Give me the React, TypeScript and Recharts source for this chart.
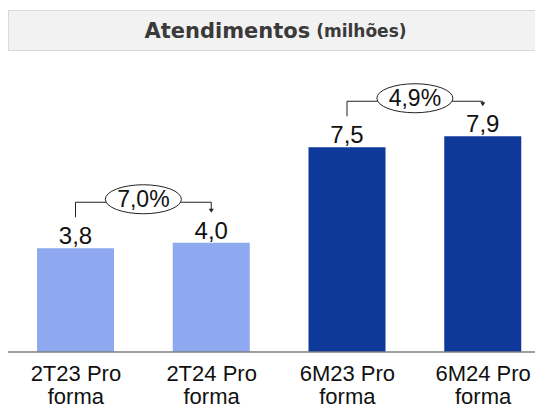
import { Bar, BarChart, Cell, LabelList, XAxis, YAxis } from "recharts";

const categories = ["2T23 Pro forma", "2T24 Pro forma", "6M23 Pro forma", "6M24 Pro forma"];
const values = [3.8, 4.0, 7.5, 7.9];
const growth = ["7,0%", "", "4,9%", ""];
const colors = ["#8EA9F0", "#8EA9F0", "#0F389B", "#0F389B"];

const CHART_W = 543;
const CHART_H = 402;
const MARGIN = { top: 71, right: 0, bottom: 0, left: 0 };
const PLOT_W = CHART_W - MARGIN.left - MARGIN.right;
const labelFont = "'Liberation Sans', Arial, sans-serif";

const fmt = (v: number) => v.toFixed(1).replace(".", ",");

// two-line category tick ("2T23 Pro" / "forma")
function CategoryTick({ x, y, payload }: any) {
  const name: string = payload.value;
  const cut = name.lastIndexOf(" ");
  return (
    <text x={x} y={y} textAnchor="middle" fontFamily={labelFont} fontSize={22} fill="#111">
      <tspan x={x} dy={29}>{name.slice(0, cut)}</tspan>
      <tspan x={x} dy={23}>{name.slice(cut + 1)}</tspan>
    </text>
  );
}

// value label on top of each bar, plus the growth bracket for the first bar of a pair
function ValueLabel(props: any) {
  const vb = props.viewBox ?? props;
  const x = vb.x ?? props.x;
  const y = vb.y ?? props.y;
  const width = vb.width ?? props.width;
  const height = Math.abs(vb.height ?? props.height);
  const index: number = props.index;
  const value = values[index];
  const cx = x + width / 2;
  const g = growth[index];

  let bracket = null;
  if (g && index + 1 < values.length) {
    const pxPerUnit = height / value;
    const band = PLOT_W / categories.length;
    const nx = cx + band;
    const nextTop = y + height - values[index + 1] * pxPerUnit;
    const by = y - 46;
    const mid = (cx + nx) / 2;
    const tip = nextTop - 30;
    bracket = (
      <g>
        <polyline points={`${cx},${y - 31} ${cx},${by} ${mid - 37},${by}`} fill="none" stroke="#222" strokeWidth={1} />
        <polyline points={`${mid + 37},${by} ${nx},${by} ${nx},${tip - 3}`} fill="none" stroke="#222" strokeWidth={1} />
        <polygon points={`${nx - 2.5},${tip - 4} ${nx + 2.5},${tip - 4} ${nx},${tip}`} fill="#222" />
        <ellipse cx={mid} cy={by - 3} rx={38} ry={14.5} fill="#fff" stroke="#222" strokeWidth={1} />
        <text x={mid} y={by + 5} textAnchor="middle" fontFamily={labelFont} fontSize={23} fill="#111">
          {g}
        </text>
      </g>
    );
  }

  return (
    <g>
      <text x={cx} y={y - 4} textAnchor="middle" fontFamily={labelFont} fontSize={24} fill="#111">
        {fmt(value)}
      </text>
      {bracket}
    </g>
  );
}

export default function App() {
  const chartData = categories.map((name, i) => ({ name, value: values[i] }));

  return (
    <div style={{ position: "relative", width: 535, height: CHART_H, overflow: "hidden" }}>
      <div
        style={{
          position: "absolute",
          left: 0,
          top: 2,
          width: 533,
          height: 39,
          background: "#f2f2f2",
          border: "1px solid #d9d9d9",
          display: "flex",
          alignItems: "center",
          justifyContent: "center",
          fontFamily: "'DejaVu Sans', sans-serif",
          fontWeight: "bold",
          color: "#3a3a3a",
        }}
      >
        <span style={{ fontSize: 21 }}>Atendimentos</span>
        <span style={{ fontSize: 17, marginLeft: 6 }}>(milhões)</span>
      </div>

      <div style={{ position: "absolute", left: 0, top: 0 }}>
        <BarChart width={CHART_W} height={CHART_H} data={chartData} margin={MARGIN} barSize={77}>
          <XAxis
            dataKey="name"
            axisLine={{ stroke: "#7f7f7f", strokeWidth: 1.5 }}
            tickLine={false}
            tickSize={0}
            tickMargin={0}
            interval={0}
            height={58}
            tick={<CategoryTick />}
          />
          <YAxis hide domain={[0, 10]} />
          <Bar dataKey="value" isAnimationActive={false}>
            {chartData.map((entry, i) => (
              <Cell key={`cell-${entry.name}`} fill={colors[i]} />
            ))}
            <LabelList dataKey="value" content={<ValueLabel />} />
          </Bar>
        </BarChart>
      </div>
    </div>
  );
}
